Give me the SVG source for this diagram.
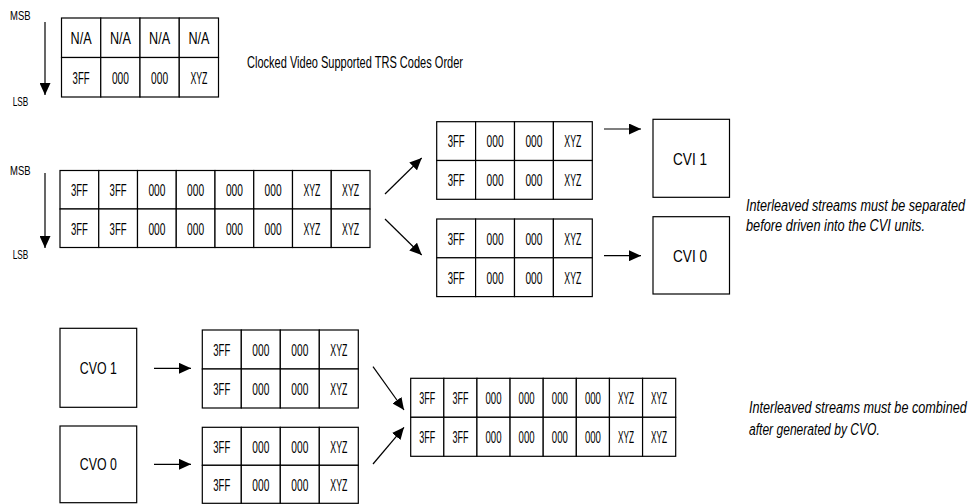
<svg xmlns="http://www.w3.org/2000/svg" width="973" height="504" viewBox="0 0 973 504">
<defs>
<marker id="ah" viewBox="0 0 12 11" refX="12" refY="5.5" markerWidth="12" markerHeight="11" markerUnits="userSpaceOnUse" orient="auto">
<path d="M0,0 L12,5.5 L0,11 z" fill="#000"/>
</marker>
<style>
.c{fill:#fff;stroke:#000;stroke-width:1.2}
.b{fill:#fff;stroke:#000;stroke-width:1.2}
.t{font-family:"Liberation Sans",Arial,sans-serif;font-size:17px;text-anchor:middle;fill:#000}
.s{font-family:"Liberation Sans",Arial,sans-serif;font-size:13px;fill:#000}
.l{font-family:"Liberation Sans",Arial,sans-serif;font-size:17px;fill:#000}
.i{font-family:"Liberation Sans",Arial,sans-serif;font-size:17px;font-style:italic;fill:#000}
.a{stroke:#000;stroke-width:1.2;fill:none;marker-end:url(#ah)}
</style>
</defs>
<rect width="973" height="504" fill="#fff"/>

<g id="bitorder1">
<text class="s" x="10" y="20" textLength="20.5" lengthAdjust="spacingAndGlyphs">MSB</text>
<text class="s" x="12.7" y="106" textLength="15.6" lengthAdjust="spacingAndGlyphs">LSB</text>
</g>
<g id="tableTop">
<rect class="c" x="61.5" y="18" width="39.25" height="39.5"/><rect class="c" x="100.75" y="18" width="39.25" height="39.5"/><rect class="c" x="140" y="18" width="39.25" height="39.5"/><rect class="c" x="179.25" y="18" width="39.25" height="39.5"/>
<rect class="c" x="61.5" y="57.5" width="39.25" height="39.5"/><rect class="c" x="100.75" y="57.5" width="39.25" height="39.5"/><rect class="c" x="140" y="57.5" width="39.25" height="39.5"/><rect class="c" x="179.25" y="57.5" width="39.25" height="39.5"/>
<text class="t" x="81.1" y="44" textLength="21" lengthAdjust="spacingAndGlyphs">N/A</text>
<text class="t" x="120.4" y="44" textLength="21" lengthAdjust="spacingAndGlyphs">N/A</text>
<text class="t" x="159.6" y="44" textLength="21" lengthAdjust="spacingAndGlyphs">N/A</text>
<text class="t" x="198.9" y="44" textLength="21" lengthAdjust="spacingAndGlyphs">N/A</text>
<text class="t" x="81.1" y="83.5" textLength="17" lengthAdjust="spacingAndGlyphs">3FF</text>
<text class="t" x="120.4" y="83.5" textLength="17" lengthAdjust="spacingAndGlyphs">000</text>
<text class="t" x="159.6" y="83.5" textLength="17" lengthAdjust="spacingAndGlyphs">000</text>
<text class="t" x="198.9" y="83.5" textLength="17" lengthAdjust="spacingAndGlyphs">XYZ</text>
</g>
<g id="caption">
<text class="l" x="247" y="68" textLength="216" lengthAdjust="spacingAndGlyphs">Clocked Video Supported TRS Codes Order</text>
</g>

<g id="bitorder2">
<text class="s" x="10" y="175" textLength="20.5" lengthAdjust="spacingAndGlyphs">MSB</text>
<text class="s" x="12.7" y="259" textLength="15.6" lengthAdjust="spacingAndGlyphs">LSB</text>
</g>
<g id="tableInterleavedIn">
<rect class="c" x="60" y="170.5" width="38.75" height="38.5"/><rect class="c" x="98.75" y="170.5" width="38.75" height="38.5"/><rect class="c" x="137.5" y="170.5" width="38.75" height="38.5"/><rect class="c" x="176.25" y="170.5" width="38.75" height="38.5"/><rect class="c" x="215" y="170.5" width="38.75" height="38.5"/><rect class="c" x="253.75" y="170.5" width="38.75" height="38.5"/><rect class="c" x="292.5" y="170.5" width="38.75" height="38.5"/><rect class="c" x="331.25" y="170.5" width="38.75" height="38.5"/>
<rect class="c" x="60" y="209" width="38.75" height="38.5"/><rect class="c" x="98.75" y="209" width="38.75" height="38.5"/><rect class="c" x="137.5" y="209" width="38.75" height="38.5"/><rect class="c" x="176.25" y="209" width="38.75" height="38.5"/><rect class="c" x="215" y="209" width="38.75" height="38.5"/><rect class="c" x="253.75" y="209" width="38.75" height="38.5"/><rect class="c" x="292.5" y="209" width="38.75" height="38.5"/><rect class="c" x="331.25" y="209" width="38.75" height="38.5"/>
<text class="t" x="79.4" y="196" textLength="17" lengthAdjust="spacingAndGlyphs">3FF</text>
<text class="t" x="118.1" y="196" textLength="17" lengthAdjust="spacingAndGlyphs">3FF</text>
<text class="t" x="156.9" y="196" textLength="17" lengthAdjust="spacingAndGlyphs">000</text>
<text class="t" x="195.6" y="196" textLength="17" lengthAdjust="spacingAndGlyphs">000</text>
<text class="t" x="234.4" y="196" textLength="17" lengthAdjust="spacingAndGlyphs">000</text>
<text class="t" x="273.1" y="196" textLength="17" lengthAdjust="spacingAndGlyphs">000</text>
<text class="t" x="311.9" y="196" textLength="17" lengthAdjust="spacingAndGlyphs">XYZ</text>
<text class="t" x="350.6" y="196" textLength="17" lengthAdjust="spacingAndGlyphs">XYZ</text>
<text class="t" x="79.4" y="234.5" textLength="17" lengthAdjust="spacingAndGlyphs">3FF</text>
<text class="t" x="118.1" y="234.5" textLength="17" lengthAdjust="spacingAndGlyphs">3FF</text>
<text class="t" x="156.9" y="234.5" textLength="17" lengthAdjust="spacingAndGlyphs">000</text>
<text class="t" x="195.6" y="234.5" textLength="17" lengthAdjust="spacingAndGlyphs">000</text>
<text class="t" x="234.4" y="234.5" textLength="17" lengthAdjust="spacingAndGlyphs">000</text>
<text class="t" x="273.1" y="234.5" textLength="17" lengthAdjust="spacingAndGlyphs">000</text>
<text class="t" x="311.9" y="234.5" textLength="17" lengthAdjust="spacingAndGlyphs">XYZ</text>
<text class="t" x="350.6" y="234.5" textLength="17" lengthAdjust="spacingAndGlyphs">XYZ</text>
</g>

<g id="tableCVI1">
<rect class="c" x="436.7" y="121.7" width="38.9" height="38.8"/><rect class="c" x="475.6" y="121.7" width="38.9" height="38.8"/><rect class="c" x="514.5" y="121.7" width="38.9" height="38.8"/><rect class="c" x="553.4" y="121.7" width="38.9" height="38.8"/>
<rect class="c" x="436.7" y="160.5" width="38.9" height="38.8"/><rect class="c" x="475.6" y="160.5" width="38.9" height="38.8"/><rect class="c" x="514.5" y="160.5" width="38.9" height="38.8"/><rect class="c" x="553.4" y="160.5" width="38.9" height="38.8"/>
<text class="t" x="456.15" y="147.4" textLength="17" lengthAdjust="spacingAndGlyphs">3FF</text>
<text class="t" x="495.05" y="147.4" textLength="17" lengthAdjust="spacingAndGlyphs">000</text>
<text class="t" x="533.95" y="147.4" textLength="17" lengthAdjust="spacingAndGlyphs">000</text>
<text class="t" x="572.85" y="147.4" textLength="17" lengthAdjust="spacingAndGlyphs">XYZ</text>
<text class="t" x="456.15" y="186.2" textLength="17" lengthAdjust="spacingAndGlyphs">3FF</text>
<text class="t" x="495.05" y="186.2" textLength="17" lengthAdjust="spacingAndGlyphs">000</text>
<text class="t" x="533.95" y="186.2" textLength="17" lengthAdjust="spacingAndGlyphs">000</text>
<text class="t" x="572.85" y="186.2" textLength="17" lengthAdjust="spacingAndGlyphs">XYZ</text>
</g>
<g id="tableCVI0">
<rect class="c" x="436.7" y="219" width="38.9" height="38.8"/><rect class="c" x="475.6" y="219" width="38.9" height="38.8"/><rect class="c" x="514.5" y="219" width="38.9" height="38.8"/><rect class="c" x="553.4" y="219" width="38.9" height="38.8"/>
<rect class="c" x="436.7" y="257.8" width="38.9" height="38.8"/><rect class="c" x="475.6" y="257.8" width="38.9" height="38.8"/><rect class="c" x="514.5" y="257.8" width="38.9" height="38.8"/><rect class="c" x="553.4" y="257.8" width="38.9" height="38.8"/>
<text class="t" x="456.15" y="244.7" textLength="17" lengthAdjust="spacingAndGlyphs">3FF</text>
<text class="t" x="495.05" y="244.7" textLength="17" lengthAdjust="spacingAndGlyphs">000</text>
<text class="t" x="533.95" y="244.7" textLength="17" lengthAdjust="spacingAndGlyphs">000</text>
<text class="t" x="572.85" y="244.7" textLength="17" lengthAdjust="spacingAndGlyphs">XYZ</text>
<text class="t" x="456.15" y="283.5" textLength="17" lengthAdjust="spacingAndGlyphs">3FF</text>
<text class="t" x="495.05" y="283.5" textLength="17" lengthAdjust="spacingAndGlyphs">000</text>
<text class="t" x="533.95" y="283.5" textLength="17" lengthAdjust="spacingAndGlyphs">000</text>
<text class="t" x="572.85" y="283.5" textLength="17" lengthAdjust="spacingAndGlyphs">XYZ</text>
</g>

<g id="cvi1">
<rect class="b" x="653" y="119.3" width="76.5" height="78"/>
<text class="t" x="690" y="164.5" textLength="34" lengthAdjust="spacingAndGlyphs">CVI 1</text>
</g>
<g id="cvi0">
<rect class="b" x="653" y="216.7" width="76.5" height="77.3"/>
<text class="t" x="690" y="261.5" textLength="34" lengthAdjust="spacingAndGlyphs">CVI 0</text>
</g>
<g id="noteSeparate">
<text class="i" transform="translate(746,211) scale(0.743,1)">Interleaved streams must be separated</text>
<text class="i" transform="translate(746,230.5) scale(0.752,1)">before driven into the CVI units.</text>
</g>

<g id="cvo1">
<rect class="b" x="60" y="328.3" width="76.7" height="79"/>
<text class="t" x="98.3" y="374" textLength="37" lengthAdjust="spacingAndGlyphs">CVO 1</text>
</g>
<g id="cvo0">
<rect class="b" x="60" y="426" width="76.7" height="76.7"/>
<text class="t" x="98.3" y="470" textLength="37" lengthAdjust="spacingAndGlyphs">CVO 0</text>
</g>

<g id="tableCVO1">
<rect class="c" x="202.3" y="330" width="39" height="39"/><rect class="c" x="241.3" y="330" width="39" height="39"/><rect class="c" x="280.3" y="330" width="39" height="39"/><rect class="c" x="319.3" y="330" width="39" height="39"/>
<rect class="c" x="202.3" y="369" width="39" height="39"/><rect class="c" x="241.3" y="369" width="39" height="39"/><rect class="c" x="280.3" y="369" width="39" height="39"/><rect class="c" x="319.3" y="369" width="39" height="39"/>
<text class="t" x="221.8" y="355.8" textLength="17" lengthAdjust="spacingAndGlyphs">3FF</text>
<text class="t" x="260.8" y="355.8" textLength="17" lengthAdjust="spacingAndGlyphs">000</text>
<text class="t" x="299.8" y="355.8" textLength="17" lengthAdjust="spacingAndGlyphs">000</text>
<text class="t" x="338.8" y="355.8" textLength="17" lengthAdjust="spacingAndGlyphs">XYZ</text>
<text class="t" x="221.8" y="394.8" textLength="17" lengthAdjust="spacingAndGlyphs">3FF</text>
<text class="t" x="260.8" y="394.8" textLength="17" lengthAdjust="spacingAndGlyphs">000</text>
<text class="t" x="299.8" y="394.8" textLength="17" lengthAdjust="spacingAndGlyphs">000</text>
<text class="t" x="338.8" y="394.8" textLength="17" lengthAdjust="spacingAndGlyphs">XYZ</text>
</g>
<g id="tableCVO0">
<rect class="c" x="202.3" y="427.3" width="39" height="38"/><rect class="c" x="241.3" y="427.3" width="39" height="38"/><rect class="c" x="280.3" y="427.3" width="39" height="38"/><rect class="c" x="319.3" y="427.3" width="39" height="38"/>
<rect class="c" x="202.3" y="465.3" width="39" height="38"/><rect class="c" x="241.3" y="465.3" width="39" height="38"/><rect class="c" x="280.3" y="465.3" width="39" height="38"/><rect class="c" x="319.3" y="465.3" width="39" height="38"/>
<text class="t" x="221.8" y="452.6" textLength="17" lengthAdjust="spacingAndGlyphs">3FF</text>
<text class="t" x="260.8" y="452.6" textLength="17" lengthAdjust="spacingAndGlyphs">000</text>
<text class="t" x="299.8" y="452.6" textLength="17" lengthAdjust="spacingAndGlyphs">000</text>
<text class="t" x="338.8" y="452.6" textLength="17" lengthAdjust="spacingAndGlyphs">XYZ</text>
<text class="t" x="221.8" y="490.6" textLength="17" lengthAdjust="spacingAndGlyphs">3FF</text>
<text class="t" x="260.8" y="490.6" textLength="17" lengthAdjust="spacingAndGlyphs">000</text>
<text class="t" x="299.8" y="490.6" textLength="17" lengthAdjust="spacingAndGlyphs">000</text>
<text class="t" x="338.8" y="490.6" textLength="17" lengthAdjust="spacingAndGlyphs">XYZ</text>
</g>

<g id="tableInterleavedOut">
<rect class="c" x="410.7" y="378.3" width="33.125" height="39"/><rect class="c" x="443.825" y="378.3" width="33.125" height="39"/><rect class="c" x="476.95" y="378.3" width="33.125" height="39"/><rect class="c" x="510.075" y="378.3" width="33.125" height="39"/><rect class="c" x="543.2" y="378.3" width="33.125" height="39"/><rect class="c" x="576.325" y="378.3" width="33.125" height="39"/><rect class="c" x="609.45" y="378.3" width="33.125" height="39"/><rect class="c" x="642.575" y="378.3" width="33.125" height="39"/>
<rect class="c" x="410.7" y="417.3" width="33.125" height="39"/><rect class="c" x="443.825" y="417.3" width="33.125" height="39"/><rect class="c" x="476.95" y="417.3" width="33.125" height="39"/><rect class="c" x="510.075" y="417.3" width="33.125" height="39"/><rect class="c" x="543.2" y="417.3" width="33.125" height="39"/><rect class="c" x="576.325" y="417.3" width="33.125" height="39"/><rect class="c" x="609.45" y="417.3" width="33.125" height="39"/><rect class="c" x="642.575" y="417.3" width="33.125" height="39"/>
<text class="t" x="427.3" y="404" textLength="16" lengthAdjust="spacingAndGlyphs">3FF</text>
<text class="t" x="460.4" y="404" textLength="16" lengthAdjust="spacingAndGlyphs">3FF</text>
<text class="t" x="493.5" y="404" textLength="16" lengthAdjust="spacingAndGlyphs">000</text>
<text class="t" x="526.6" y="404" textLength="16" lengthAdjust="spacingAndGlyphs">000</text>
<text class="t" x="559.8" y="404" textLength="16" lengthAdjust="spacingAndGlyphs">000</text>
<text class="t" x="592.9" y="404" textLength="16" lengthAdjust="spacingAndGlyphs">000</text>
<text class="t" x="626" y="404" textLength="16" lengthAdjust="spacingAndGlyphs">XYZ</text>
<text class="t" x="659.1" y="404" textLength="16" lengthAdjust="spacingAndGlyphs">XYZ</text>
<text class="t" x="427.3" y="443" textLength="16" lengthAdjust="spacingAndGlyphs">3FF</text>
<text class="t" x="460.4" y="443" textLength="16" lengthAdjust="spacingAndGlyphs">3FF</text>
<text class="t" x="493.5" y="443" textLength="16" lengthAdjust="spacingAndGlyphs">000</text>
<text class="t" x="526.6" y="443" textLength="16" lengthAdjust="spacingAndGlyphs">000</text>
<text class="t" x="559.8" y="443" textLength="16" lengthAdjust="spacingAndGlyphs">000</text>
<text class="t" x="592.9" y="443" textLength="16" lengthAdjust="spacingAndGlyphs">000</text>
<text class="t" x="626" y="443" textLength="16" lengthAdjust="spacingAndGlyphs">XYZ</text>
<text class="t" x="659.1" y="443" textLength="16" lengthAdjust="spacingAndGlyphs">XYZ</text>
</g>
<g id="noteCombine">
<text class="i" transform="translate(749,412.5) scale(0.744,1)">Interleaved streams must be combined</text>
<text class="i" transform="translate(749,434.5) scale(0.71,1)">after generated by CVO.</text>
</g>

<g id="connectors">
<line class="a" x1="45" y1="22" x2="45" y2="95"/>
<line class="a" x1="45" y1="173" x2="45" y2="248"/>
<line class="a" x1="385" y1="194" x2="421.7" y2="158"/>
<line class="a" x1="385" y1="219" x2="421.7" y2="255"/>
<line class="a" x1="604" y1="129" x2="641" y2="129"/>
<line class="a" x1="604" y1="255.7" x2="641" y2="255.7"/>
<line class="a" x1="154" y1="368.3" x2="191" y2="368.3"/>
<line class="a" x1="154" y1="464.3" x2="191" y2="464.3"/>
<line class="a" x1="373" y1="366.7" x2="404" y2="410"/>
<line class="a" x1="373" y1="464" x2="404" y2="427.3"/>
</g>
</svg>
